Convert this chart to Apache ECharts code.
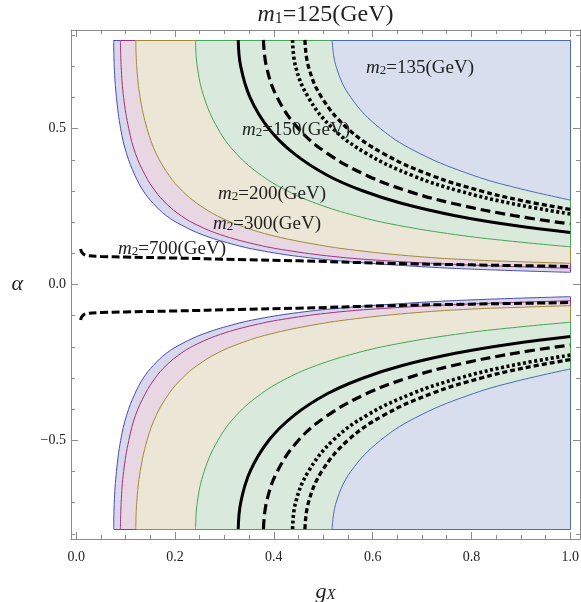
<!DOCTYPE html>
<html>
<head>
<meta charset="utf-8">
<script src="https://cdn.jsdelivr.net/npm/echarts@6/dist/echarts.min.js"></script>
<style>
html, body { margin: 0; padding: 0; background: #fff; }
#chart { width: 581px; height: 602px; }
</style>
</head>
<body>
<div id="chart"></div>
<script>
// plot range (alpha runs from -pi/4 to pi/4)
const ALPHA_TOP = 0.785
const X_MIN = -0.0105
const X_MAX = 1.0197
const Y_MIN = -0.8168
const Y_MAX = 0.8168

const xMajor = [0, 0.2, 0.4, 0.6, 0.8, 1.0]
const xMinor = [0, 0.05, 0.1, 0.15, 0.2, 0.25, 0.3, 0.35, 0.4, 0.45, 0.5, 0.55, 0.6, 0.65, 0.7, 0.75, 0.8, 0.85, 0.9, 0.95, 1.0]
const yMajor = [-0.5, 0, 0.5]
const yMinor = [-0.8, -0.7, -0.6, -0.5, -0.4, -0.3, -0.2, -0.1, 0, 0.1, 0.2, 0.3, 0.4, 0.5, 0.6, 0.7, 0.8]

// shaded region boundaries, upper half, [gX, alpha] (lower half is the mirror image)
const edgeBlue = [[0.076, 0.785], [0.077, 0.70], [0.0815, 0.60], [0.090, 0.50], [0.102, 0.42], [0.119, 0.35], [0.136, 0.30], [0.156, 0.26], [0.183, 0.22], [0.214, 0.19], [0.255, 0.16], [0.315, 0.13], [0.37, 0.11], [0.45, 0.09], [0.54, 0.075], [0.65, 0.062], [0.79, 0.05], [1.0, 0.039]]
const edgePink = [[0.0895, 0.785], [0.091, 0.70], [0.096, 0.60], [0.1065, 0.50], [0.120, 0.42], [0.140, 0.35], [0.160, 0.30], [0.182, 0.26], [0.213, 0.22], [0.246, 0.19], [0.292, 0.16], [0.36, 0.13], [0.425, 0.11], [0.52, 0.09], [0.62, 0.077], [0.76, 0.065], [0.88, 0.058], [1.0, 0.052]]
const edgeTan = [[0.1206, 0.785], [0.1225, 0.70], [0.1295, 0.60], [0.1435, 0.50], [0.162, 0.42], [0.188, 0.35], [0.215, 0.30], [0.245, 0.26], [0.286, 0.22], [0.33, 0.19], [0.39, 0.16], [0.48, 0.13], [0.565, 0.11], [0.69, 0.09], [0.80, 0.079], [0.90, 0.073], [1.0, 0.068]]
const edgeGreen = [[0.2415, 0.785], [0.245, 0.70], [0.259, 0.60], [0.287, 0.50], [0.324, 0.42], [0.375, 0.35], [0.428, 0.30], [0.486, 0.26], [0.567, 0.22], [0.651, 0.19], [0.768, 0.16], [0.874, 0.14], [1.0, 0.121]]
const edgeInner = [[0.518, 0.785], [0.526, 0.70], [0.556, 0.60], [0.616, 0.50], [0.696, 0.42], [0.804, 0.35], [0.892, 0.31], [1.0, 0.271]]

// black contours, upper half
const solid = [[0.328, 0.785], [0.333, 0.70], [0.352, 0.60], [0.390, 0.50], [0.441, 0.42], [0.509, 0.35], [0.581, 0.30], [0.66, 0.26], [0.77, 0.22], [0.884, 0.19], [1.0, 0.167]]
const longDash = [[0.379, 0.785], [0.385, 0.70], [0.407, 0.60], [0.450, 0.50], [0.509, 0.42], [0.588, 0.35], [0.671, 0.30], [0.763, 0.26], [0.89, 0.22], [1.0, 0.1945]]
const dotted = [[0.438, 0.785], [0.444, 0.70], [0.470, 0.60], [0.520, 0.50], [0.588, 0.42], [0.680, 0.35], [0.776, 0.30], [0.881, 0.26], [1.0, 0.2265]]
const shortDash = [[0.463, 0.785], [0.470, 0.70], [0.497, 0.60], [0.550, 0.50], [0.622, 0.42], [0.719, 0.35], [0.820, 0.30], [0.90, 0.27], [1.0, 0.241]]
const m2of700 = [[0.009, 0.114], [0.011, 0.104], [0.015, 0.097], [0.022, 0.093], [0.05, 0.09], [0.1, 0.088], [0.2, 0.085], [0.33, 0.08], [0.45, 0.076], [0.63, 0.068], [0.8, 0.063], [1.0, 0.058]]

const m2Labels = ['135', '150', '200', '300', '700']

const serif = '"Liberation Serif", "Times New Roman", serif'
const ink = '#222'

const regions = [
  { pts: edgeBlue, fill: '#d8d8ec', edge: '#4b4bb2' },
  { pts: edgePink, fill: '#e9d6e3', edge: '#a4307c' },
  { pts: edgeTan, fill: '#ebe6d6', edge: '#a48a34' },
  { pts: edgeGreen, fill: '#d9eadd', edge: '#44a656' },
  { pts: edgeInner, fill: '#d8deed', edge: '#4a6cb2' }
]
const contours = [
  { pts: solid, dash: 'solid', width: 3 },
  { pts: longDash, dash: [10, 5], width: 3.2 },
  { pts: dotted, dash: [3, 2.6], width: 3.6 },
  { pts: shortDash, dash: [5, 3], width: 3.3 },
  { pts: m2of700, dash: [8, 3.5], width: 3 }
]
// where the m2 labels sit (pixels: left, middle)
const labelPos = [[366, 68], [242, 130], [218, 194], [213, 224], [118, 249]]

const flip = pts => pts.map(p => [p[0], -p[1]])

function regionSeries(r, k, sign) {
  const data = sign > 0 ? r.pts : flip(r.pts)
  const top = sign * ALPHA_TOP
  const last = data[data.length - 1]
  return {
    type: 'line',
    data,
    smooth: 0.4,
    symbol: 'none',
    silent: true,
    z: 2 + k * 2,
    lineStyle: { color: r.edge, width: 1 },
    areaStyle: { color: r.fill, opacity: 1, origin: top },
    markLine: {
      silent: true,
      symbol: 'none',
      z: 3 + k * 2,
      label: { show: false },
      lineStyle: { color: r.edge, width: 1, type: 'solid' },
      data: [
        [{ coord: [data[0][0], top] }, { coord: [1, top] }],
        [{ coord: [1, top] }, { coord: [1, last[1]] }]
      ]
    }
  }
}

function contourSeries(c, sign) {
  return {
    type: 'line',
    data: sign > 0 ? c.pts : flip(c.pts),
    smooth: 0.4,
    symbol: 'none',
    silent: true,
    z: 20,
    lineStyle: { color: '#000', width: c.width, type: c.dash, cap: 'butt' }
  }
}

function rich(size, subSize) {
  const base = { fontFamily: serif, fontSize: size, color: ink, fill: ink }
  return {
    i: Object.assign({}, base, { fontStyle: 'italic' }),
    s: Object.assign({}, base, { fontSize: subSize, lineHeight: 10, verticalAlign: 'bottom' }),
    si: Object.assign({}, base, { fontSize: subSize, fontStyle: 'italic', lineHeight: 10, verticalAlign: 'bottom' }),
    n: base
  }
}

const series = []
regions.forEach((r, k) => {
  series.push(regionSeries(r, k, 1))
  series.push(regionSeries(r, k, -1))
})
contours.forEach(c => {
  series.push(contourSeries(c, 1))
  series.push(contourSeries(c, -1))
})

const frame = { color: '#8a8a8a', width: 1 }
const tickLabel = { fontFamily: serif, fontSize: 14, color: ink }

function xAxisOf(position, ticks, len, withLabels) {
  return {
    type: 'value', min: X_MIN, max: X_MAX, position,
    axisLine: { show: ticks === xMajor, onZero: false, lineStyle: frame },
    axisTick: { inside: true, length: len, customValues: ticks, lineStyle: frame },
    axisLabel: withLabels
      ? Object.assign({ customValues: xMajor, margin: 11, formatter: v => v.toFixed(1) }, tickLabel)
      : { show: false },
    splitLine: { show: false }
  }
}
function yAxisOf(position, ticks, len, withLabels) {
  return {
    type: 'value', min: Y_MIN, max: Y_MAX, position,
    axisLine: { show: ticks === yMajor, onZero: false, lineStyle: frame },
    axisTick: { inside: true, length: len, customValues: ticks, lineStyle: frame },
    axisLabel: withLabels
      ? Object.assign({
          customValues: yMajor, margin: 5,
          formatter: v => (v < 0 ? '\u2212' : '') + Math.abs(v).toFixed(1)
        }, tickLabel)
      : { show: false },
    splitLine: { show: false }
  }
}

const xMain = xAxisOf('bottom', xMajor, 7, true)
xMain.name = '{i|g}{si|X}'
xMain.nameLocation = 'middle'
xMain.nameGap = 42
xMain.nameTextStyle = { rich: rich(22, 15) }

const yMain = yAxisOf('left', yMajor, 7, true)
yMain.name = '\u03b1'
yMain.nameLocation = 'middle'
yMain.nameRotate = 0
yMain.nameGap = 48
yMain.nameTextStyle = { fontFamily: serif, fontStyle: 'italic', fontSize: 22, color: ink }

const labelGraphics = m2Labels.map((m, i) => ({
  type: 'text',
  x: labelPos[i][0],
  y: labelPos[i][1],
  z: 50,
  silent: true,
  style: {
    text: '{i|m}{s|2}{n|=' + m + '(GeV)}',
    rich: rich(19, 13),
    fontFamily: serif, fontSize: 19, fill: ink,
    align: 'left', verticalAlign: 'middle'
  }
}))

const chart = echarts.init(document.getElementById('chart'), null, { renderer: 'canvas' })
chart.setOption({
  animation: false,
  backgroundColor: '#fff',
  grid: { left: 71, right: 1, top: 30, bottom: 63, containLabel: false, outerBoundsMode: 'none' },
  xAxis: [
    xMain,
    xAxisOf('bottom', xMinor, 4, false),
    xAxisOf('top', xMajor, 7, false),
    xAxisOf('top', xMinor, 4, false)
  ],
  yAxis: [
    yMain,
    yAxisOf('left', yMinor, 4, false),
    yAxisOf('right', yMajor, 7, false),
    yAxisOf('right', yMinor, 4, false)
  ],
  series,
  graphic: [
    {
      type: 'text',
      x: 325.5,
      y: 15,
      z: 50,
      silent: true,
      style: {
        text: '{i|m}{s|1}{n|=125(GeV)}',
        rich: rich(24, 16),
        fontFamily: serif, fontSize: 24, fill: ink,
        align: 'center', verticalAlign: 'middle'
      }
    }
  ].concat(labelGraphics)
})
</script>
</body>
</html>
